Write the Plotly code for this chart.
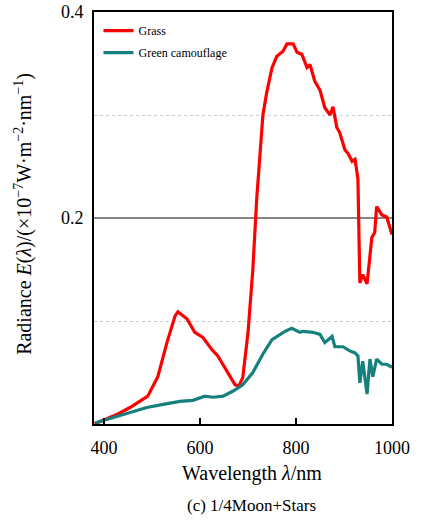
import plotly.graph_objects as go

grass_x = [380, 402, 430, 454, 491, 512, 531, 548, 554, 573, 589, 606, 625, 637, 656, 673, 681, 689, 700, 710, 718,
           731, 739, 750, 760, 773, 781, 794, 802, 812, 823, 829, 839, 850, 860, 871, 877, 885, 891, 902, 908, 917, 923,
           929, 933, 939, 948, 958, 964, 968, 979, 989, 1000]
grass_y = [0.0, 0.0045, 0.010, 0.016, 0.027, 0.046, 0.079, 0.105, 0.109, 0.102, 0.089, 0.084, 0.072, 0.066, 0.051,
           0.038, 0.037, 0.045, 0.089, 0.150, 0.218,
           0.300, 0.322, 0.346, 0.357, 0.362, 0.369, 0.369, 0.361, 0.359, 0.346, 0.349, 0.333, 0.324, 0.307, 0.300,
           0.308, 0.288, 0.283, 0.266, 0.263, 0.255, 0.257,
           0.238, 0.137, 0.145, 0.136, 0.181, 0.186, 0.211, 0.203, 0.201, 0.184]

camo_x = [381, 419, 454, 489, 523, 558, 585, 610, 627, 648, 669, 689, 710, 731, 750, 760, 777, 791, 808, 815, 835,
          850, 860, 875, 881, 898, 912, 923, 929, 933, 939, 948, 954, 960, 968, 979, 989, 1000]
camo_y = [0.001, 0.006, 0.011, 0.016, 0.019, 0.022, 0.023, 0.027, 0.026, 0.027, 0.032, 0.038, 0.050, 0.068, 0.082,
          0.085, 0.090, 0.093, 0.089, 0.090, 0.089, 0.087, 0.079, 0.085, 0.075, 0.075, 0.071, 0.069, 0.066, 0.040,
          0.061, 0.029, 0.063, 0.046, 0.063, 0.058, 0.058, 0.055]

x_ticks = [400, 600, 800, 1000]
y_ticks = [0.2, 0.4]
y_minor = [0.1, 0.3]

serif = "Liberation Serif, serif"

fig = go.Figure()
fig.add_trace(go.Scatter(x=grass_x, y=grass_y, mode="lines", name="Grass", legendgroup="g1",
                         line=dict(color="#ff0000", width=3.2)))
fig.add_trace(go.Scatter(x=camo_x, y=camo_y, mode="lines", name="Green camouflage", legendgroup="g2",
                         line=dict(color="#16807d", width=3.2)))

fig.update_layout(
    width=429, height=520,
    margin=dict(l=94, r=37, t=12, b=96, autoexpand=False),
    plot_bgcolor="white", paper_bgcolor="white",
    font=dict(family=serif, color="black"),
    showlegend=True,
    legend=dict(x=0.015, y=0.99, xanchor="left", yanchor="top", bgcolor="rgba(0,0,0,0)",
                font=dict(family=serif, size=12), tracegroupgap=3),
    xaxis=dict(range=[379, 1000], tickvals=x_ticks, ticks="inside", ticklen=6, tickwidth=2,
               tickcolor="black", showline=True, linecolor="black", linewidth=2, mirror=True,
               showgrid=False, zeroline=False, tickfont=dict(family=serif, size=18),
               ticklabelstandoff=6, automargin=False),
    yaxis=dict(range=[0, 0.4], tickvals=y_ticks, ticktext=["0.2", "0.4"], ticks="",
               showline=True, linecolor="black", linewidth=2, mirror=True,
               showgrid=True, gridcolor="#858585", gridwidth=2, zeroline=False,
               tickfont=dict(family=serif, size=18), ticklabelstandoff=5, automargin=False,
               minor=dict(tickvals=y_minor, showgrid=True, gridcolor="#cccccc", griddash="dot", gridwidth=1)),
    annotations=[
        dict(text="Radiance <i>E</i>(<i>λ</i>)/(×10<sup>−7</sup>W·m<sup>−2</sup>·nm<sup>−1</sup>)",
             xref="paper", yref="paper", x=-0.235, y=0.51, xanchor="center", yanchor="middle",
             textangle=-90, showarrow=False, font=dict(family=serif, size=20)),
        dict(text="Wavelength <i>λ</i>/nm", xref="paper", yref="paper", x=0.53, y=-0.121,
             xanchor="center", yanchor="middle", showarrow=False, font=dict(family=serif, size=20)),
        dict(text="(c) 1/4Moon+Stars", xref="paper", yref="paper", x=0.53, y=-0.197,
             xanchor="center", yanchor="middle", showarrow=False, font=dict(family=serif, size=17)),
    ],
)

fig.write_html("out.html")
